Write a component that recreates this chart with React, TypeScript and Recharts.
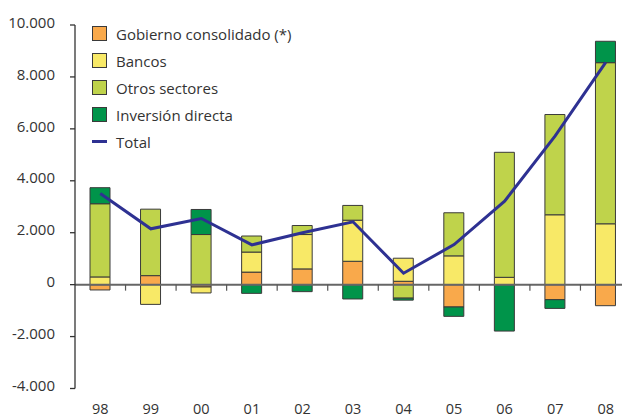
import { Bar, ComposedChart, Legend, Line, ReferenceLine, XAxis, YAxis } from "recharts";

const years = ["98", "99", "00", "01", "02", "03", "04", "05", "06", "07", "08"];
const gobierno = [-205, 347, -90, 483, 606, 900, 130, -861, 0, -579, -811];
const bancos = [297, -760, -230, 772, 1324, 1583, 888, 1108, 282, 2691, 2344];
const otros = [2819, 2560, 1930, 618, 347, 568, -520, 1660, 4815, 3861, 6205];
const inversion = [618, 0, 965, -336, -270, -552, -77, -360, -1788, -336, 824];
const total = [3514, 2150, 2548, 1533, 1996, 2421, 440, 1544, 3216, 5726, 8560];

const yTicks = [-4000, -2000, 0, 2000, 4000, 6000, 8000, 10000];
const Y_MIN = -4000;
const Y_MAX = 10000;

const seriesLabels = ["Gobierno consolidado (*)", "Bancos", "Otros sectores", "Inversión directa"];
const totalLabel = "Total";
const seriesKeys = ["gobierno", "bancos", "otros", "inversion"];
const seriesColors = ["#f9a94b", "#f8e967", "#bfd34b", "#00944a"];
const totalColor = "#2e3192";

const FONT = "'Open Sans', sans-serif";
const TEXT = "#333333";

const W = 640;
const H = 416;
const margin = { top: 25, right: 9, bottom: 0, left: 0 };
const Y_AXIS_W = 75;
const X_AXIS_H = 27.5;

const data = years.map((year, i) => ({
  year,
  gobierno: gobierno[i],
  bancos: bancos[i],
  otros: otros[i],
  inversion: inversion[i],
  total: total[i],
}));

const fmt = (v: number) => {
  const s = Math.abs(v)
    .toString()
    .replace(/\B(?=(\d{3})+(?!\d))/g, ".");
  return v < 0 ? "-" + s : s;
};

const YTick = ({ x, y, payload }: any) => (
  <text x={x} y={y} dy={2.7} textAnchor="end" fontSize={15} fill={TEXT} fontFamily={FONT}>
    {fmt(payload.value)}
  </text>
);

const XTick = ({ x, payload, index }: any) => {
  const band = (W - Y_AXIS_W - margin.right) / years.length;
  const plotH = H - margin.top - margin.bottom - X_AXIS_H;
  const zeroY = margin.top + (Y_MAX / (Y_MAX - Y_MIN)) * plotH;
  return (
    <g>
      {index > 0 && (
        <line x1={x - band / 2} x2={x - band / 2} y1={zeroY} y2={zeroY + 6} stroke="#555" strokeWidth={1.2} />
      )}
      <text x={x} y={margin.top + plotH + 25} textAnchor="middle" fontSize={14.5} fill={TEXT} fontFamily={FONT}>
        {payload.value}
      </text>
    </g>
  );
};

const LegendBox = () => (
  <div style={{ fontFamily: FONT, fontSize: 15, color: TEXT }}>
    {seriesLabels.map((label, i) => (
      <div key={label} style={{ height: 27, display: "flex", alignItems: "center" }}>
        <span
          style={{
            width: 13,
            height: 13,
            background: seriesColors[i],
            border: "1px solid #3a3a3a",
            marginRight: 9,
          }}
        />
        <span>{label}</span>
      </div>
    ))}
    <div style={{ height: 27, display: "flex", alignItems: "center" }}>
      <span style={{ width: 15, height: 3, background: totalColor, marginRight: 9 }} />
      <span>{totalLabel}</span>
    </div>
  </div>
);

export default function App() {
  return (
    <div style={{ position: "absolute", top: 0, left: 0, width: 622, height: 416, overflow: "hidden" }}>
      <ComposedChart width={W} height={H} data={data} margin={margin} stackOffset="sign">
        <XAxis
          dataKey="year"
          axisLine={false}
          tickLine={false}
          height={X_AXIS_H}
          interval={0}
          tick={<XTick />}
        />
        <YAxis
          type="number"
          domain={[Y_MIN, Y_MAX]}
          ticks={yTicks}
          width={Y_AXIS_W}
          axisLine={{ stroke: "#333", strokeWidth: 1.3 }}
          tickLine={{ stroke: "#333", strokeWidth: 1.3 }}
          tickSize={5}
          tickMargin={15}
          tick={<YTick />}
        />
        {seriesKeys.map((key, i) => (
          <Bar
            key={key}
            dataKey={key}
            name={seriesLabels[i]}
            stackId="a"
            barSize={20}
            fill={seriesColors[i]}
            stroke="#3a3a3a"
            strokeWidth={1}
            isAnimationActive={false}
          />
        ))}
        <ReferenceLine y={0} stroke="#666" strokeWidth={2} />
        <Line
          type="linear"
          dataKey="total"
          name={totalLabel}
          stroke={totalColor}
          strokeWidth={3}
          dot={false}
          isAnimationActive={false}
        />
        <Legend
          layout="vertical"
          align="center"
          verticalAlign="middle"
          wrapperStyle={{ top: 20, left: 92, width: 260 }}
          content={() => <LegendBox />}
        />
      </ComposedChart>
    </div>
  );
}
